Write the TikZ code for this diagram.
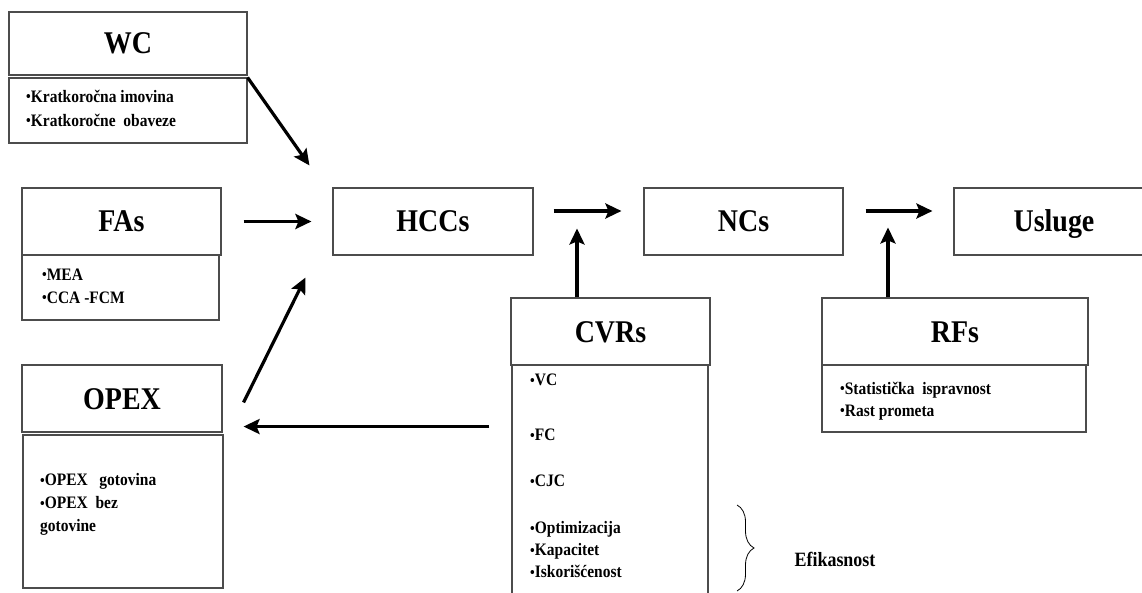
\documentclass[tikz,border=0pt]{standalone}
\usepackage{fontspec}
\setmainfont{Liberation Serif}[FakeStretch=0.885]
\usetikzlibrary{arrows.meta,decorations.pathreplacing}

\newcommand\bul{\raisebox{0.3pt}{\fontsize{15}{15}\selectfont•}}

\begin{document}
\begin{tikzpicture}[x=1pt,y=1pt]

\tikzset{box/.style = {shape=rectangle,draw=black!70,line width=1.1pt,inner sep=0pt,
  text height=21pt,text depth=0pt,font=\bfseries\fontsize{31.6}{33}\selectfont}}
\tikzset{body/.style = {shape=rectangle,draw=black!70,line width=1.1pt,inner sep=0pt}}
\tikzset{lst/.style = {anchor=north west,align=left,inner sep=0pt,
  font=\bfseries\fontsize{17.5}{24}\selectfont}}
\tikzset{edge/.style = {-{Stealth[length=16pt,width=15pt,inset=3pt]},line width=3.2pt}}

\useasboundingbox (0,0) rectangle (1142,-593);

% boxes
\node[box,minimum width=238,minimum height=63] (wc) at (128,-43.5) {WC};
\node[body,minimum width=238,minimum height=65] (wcb) at (128,-110.5) {};

\node[box,minimum width=199,minimum height=67] (fas) at (121.5,-221.5) {FAs};
\node[body,minimum width=197,minimum height=65] (fasb) at (120.5,-287.5) {};

\node[box,minimum width=200,minimum height=67] (opex) at (122,-398.5) {OPEX};
\node[body,minimum width=200,minimum height=153] (opexb) at (123,-511.5) {};

\node[box,minimum width=200,minimum height=67] (hccs) at (433,-221.5) {HCCs};
\node[box,minimum width=199,minimum height=67] (ncs) at (743.5,-221.5) {NCs};
\node[box,minimum width=200,minimum height=67] (usl) at (1054,-221.5) {Usluge};

\node[box,minimum width=199,minimum height=67] (cvrs) at (610.5,-331.5) {CVRs};
\node[body,minimum width=196,minimum height=250] (cvrsb) at (610,-490) {};

\node[box,minimum width=266,minimum height=67] (rfs) at (955,-331.5) {RFs};
\node[body,minimum width=264,minimum height=67] (rfsb) at (954,-398.5) {};

% lists
\node[lst] (wcl) at (26,-89.5) {\bul Kratkoročna imovina\\\bul Kratkoročne\ \ obaveze};
\node[lst,font=\bfseries\fontsize{17.5}{23}\selectfont] (fasl) at (42,-268.5) {\bul MEA\\\bul CCA -FCM};
\node[lst,font=\bfseries\fontsize{17.5}{23}\selectfont] (opexl) at (40,-473.5)
  {\bul OPEX\ \ \ gotovina\\\bul OPEX\ \ bez\\gotovine};
\node[lst,font=\bfseries\fontsize{17.5}{22}\selectfont] (cvrsl) at (530,-374)
  {\bul VC\\[33pt]\bul FC\\[24pt]\bul CJC\\[25pt]\bul Optimizacija\\\bul Kapacitet\\\bul Iskorišćenost};
\node[lst,font=\bfseries\fontsize{17.5}{22}\selectfont] (rfsl) at (840,-381.5)
  {\bul Statistička\ \ ispravnost\\\bul Rast prometa};

% brace
\coordinate (brtop) at (737,-505);
\coordinate (brbot) at (737,-591);
\draw[decorate,decoration={brace,amplitude=17pt},line width=0.8pt] (brtop) to (brbot);
\node[font=\bfseries\fontsize{20.3}{22}\selectfont] (eff) at (835,-559) {Efikasnost};

% edges
\draw[edge] (wcb.north east) to ([shift={(-23pt,22pt)}]hccs.north west);
\draw[edge] ([xshift=22pt]fas.east) to ([xshift=-21pt]hccs.west);
\draw[edge] ([shift={(21pt,-38pt)}]opex.north east) to ([shift={(-27pt,-22pt)}]hccs.south west);
\draw[edge] ([shift={(20pt,10.5pt)}]hccs.east) to ([shift={(-22pt,10.5pt)}]ncs.west);
\draw[edge] ([shift={(22pt,10.5pt)}]ncs.east) to ([shift={(-21pt,10.5pt)}]usl.west);
\draw[edge] ([xshift=-33.5pt]cvrs.north) to ([shift={(-33.5pt,69pt)}]cvrs.north);
\draw[edge] ([xshift=-67pt]rfs.north) to ([shift={(-67pt,70pt)}]rfs.north);
\draw[edge] ([shift={(-21pt,-61pt)}]cvrs.south west) to ([shift={(21pt,6pt)}]opex.south east);

\end{tikzpicture}
\end{document}
